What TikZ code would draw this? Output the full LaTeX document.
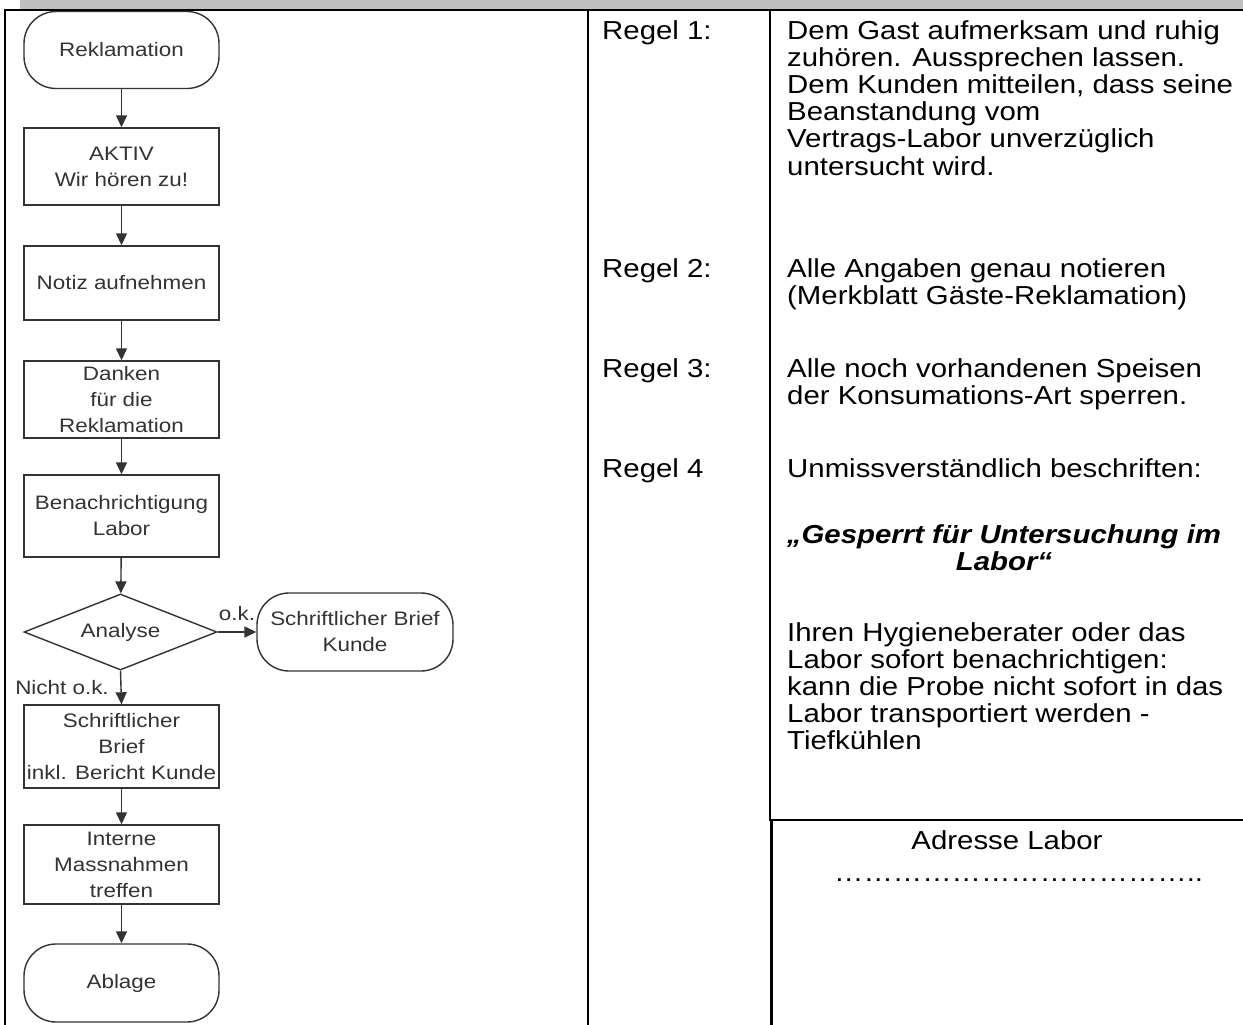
\documentclass[tikz,border=0pt]{standalone}
\usepackage{fontspec}
\setmainfont[FakeStretch=1.13]{Liberation Sans}
\newfontfamily\flowfont[FakeStretch=1.15]{Liberation Sans}
\usetikzlibrary{arrows.meta,shapes.geometric}
\definecolor{barGray}{HTML}{C0C0C0}
\definecolor{flowGray}{HTML}{333333}
\newcommand\myell{…}
\tikzset{
  fbox/.style={draw=flowGray, line width=1.4pt, rectangle, minimum width=195pt, inner sep=0pt, align=center, text=flowGray, font=\flowfont\fontsize{19.5}{26}\selectfont},
  fterm/.style={fbox, rounded corners=32pt},
  fdia/.style={fbox, diamond, aspect=2.5, minimum width=193pt, minimum height=76pt},
  arr/.style={draw=flowGray, line width=1.4pt, -{Triangle[width=11pt,length=12pt]}},
  flab/.style={text=flowGray, inner sep=0pt, font=\flowfont\fontsize{19.5}{26}\selectfont},
  rtxt/.style={inner sep=0pt, align=left, font=\fontsize{26}{27.2}\selectfont},
  tline/.style={line width=2pt, black}
}
\begin{document}
\begin{tikzpicture}[x=1pt,y=-1pt]
\useasboundingbox (0,0) rectangle (1243,1025);
% header bar and table lines
\fill[barGray] (20,0) rectangle (1243,10);
\draw[tline] (4,10) -- (1243,10);
\draw[line width=2.5pt] (5,10) -- (5,1025);
\draw[tline] (588,10) -- (588,1025);
\draw[tline] (770,10) -- (770,820);
\draw[tline] (769,820) -- (1243,820);
\draw[line width=3pt] (771,820) -- (771,1025);

% flowchart
\node[fterm, minimum height=77pt] (rek) at (121.5,50) {Reklamation};
\node[fbox, minimum height=77pt] (aktiv) at (121.5,166.5) {AKTIV\\Wir hören zu!};
\node[fbox, minimum height=74pt] (notiz) at (121.5,283) {Notiz aufnehmen};
\node[fbox, minimum height=77pt] (danken) at (121.5,399.5) {Danken\\für die\\Reklamation};
\node[fbox, minimum height=82pt] (benach) at (121.5,516) {Benachrichtigung\\Labor};
\node[fdia] (analyse) at (120.5,632) {Analyse};
\node[fterm, minimum width=196pt, minimum height=78pt] (briefk) at (355,632) {Schriftlicher Brief\\Kunde};
\node[fbox, minimum height=83pt] (brief) at (121.5,746.5) {Schriftlicher\\Brief\\inkl. Bericht Kunde};
\node[fbox, minimum height=79pt] (interne) at (121.5,864.5) {Interne\\Massnahmen\\treffen};
\node[fterm, minimum height=78pt] (ablage) at (121.5,983) {Ablage};

\draw[arr] (rek) -- (aktiv);
\draw[arr] (aktiv) -- (notiz);
\draw[arr] (notiz) -- (danken);
\draw[arr] (danken) -- (benach);
\draw[arr] (benach) -- (analyse);
\draw[arr] (analyse.east) -- (briefk.west);
\draw[arr] (analyse.south) -- (brief.north);
\draw[arr] (brief) -- (interne);
\draw[arr] (interne) -- (ablage);
\node[flab] (ok) at (237,614) {o.k.};
\node[flab] (nok) at (62,688) {Nicht o.k.};

% rules
\node[rtxt, anchor=north west] (r1) at (602,20) {Regel 1:};
\node[rtxt, anchor=north west] (t1) at (787,20) {Dem Gast aufmerksam und ruhig\\zuhören. Aussprechen lassen.\\Dem Kunden mitteilen, dass seine\\Beanstandung vom\\Vertrags-Labor unverzüglich\\untersucht wird.};
\node[rtxt, anchor=north west] (r2) at (602,258) {Regel 2:};
\node[rtxt, anchor=north west] (t2) at (787,258) {Alle Angaben genau notieren\\(Merkblatt Gäste-Reklamation)};
\node[rtxt, anchor=north west] (r3) at (602,358) {Regel 3:};
\node[rtxt, anchor=north west] (t3) at (787,358) {Alle noch vorhandenen Speisen\\der Konsumations-Art sperren.};
\node[rtxt, anchor=north west] (r4) at (602,458) {Regel 4};
\node[rtxt, anchor=north west] (t4) at (787,458) {Unmissverständlich beschriften:};
\node[rtxt, align=center, anchor=north, font=\fontsize{26}{27.2}\selectfont\bfseries\itshape] (t4b) at (1004,524) {„Gesperrt für Untersuchung im\\Labor“};
\node[rtxt, anchor=north west] (t4c) at (787,622) {Ihren Hygieneberater oder das\\Labor sofort benachrichtigen:\\kann die Probe nicht sofort in das\\Labor transportiert werden -\\Tiefkühlen};
\node[rtxt, anchor=north] (adr) at (1007,830) {Adresse Labor};
\node[rtxt, anchor=base west] (dots) at (834,881) {\myell\myell\myell\myell\myell\myell\myell\myell\myell\myell\myell\myell..};
\end{tikzpicture}
\end{document}
